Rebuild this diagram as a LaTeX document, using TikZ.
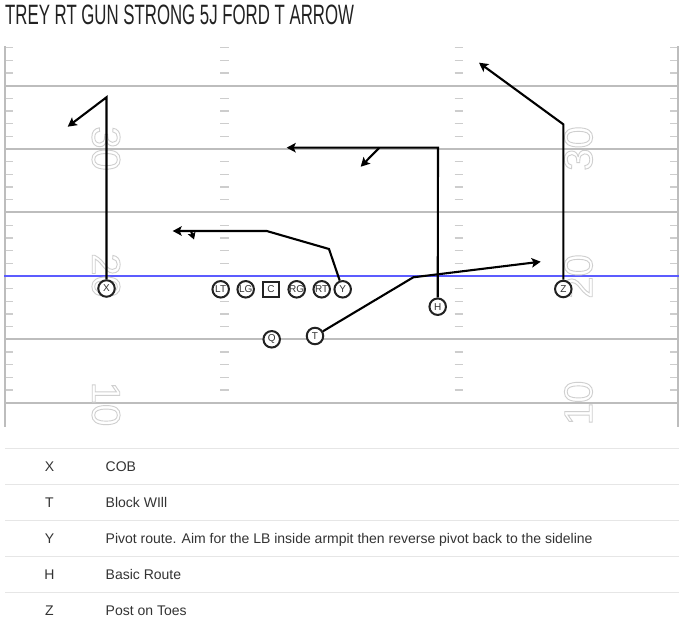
\documentclass[tikz,border=0pt]{standalone}
\usepackage{fontspec}
\usepackage{graphicx}
\setmainfont{Liberation Sans}
\usetikzlibrary{arrows.meta}
\definecolor{yardgray}{HTML}{BDBDBD}
\definecolor{tickgray}{HTML}{CDCDCD}
\definecolor{numgray}{HTML}{CFCFCF}
\definecolor{losblue}{HTML}{5C5CFF}
\definecolor{rowline}{HTML}{E6E6E6}
\definecolor{txtgray}{HTML}{333333}
\definecolor{ink}{HTML}{222222}
\newcommand{\outlinedtext}[1]{\special{pdf:literal direct 1 Tr 0.9 w}#1\special{pdf:literal direct 0 Tr}}
\begin{document}
\begin{tikzpicture}[x=1pt,y=-1pt,
  yardline/.style={draw=yardgray,line width=2pt},
  hashtick/.style={draw=tickgray,line width=1.3pt},
  yardnum/.style={inner sep=0pt,text=numgray,font=\fontsize{40}{40}\selectfont},
  player/.style={circle,draw=ink,line width=2pt,fill=white,minimum size=16.5pt,inner sep=0pt,
    font=\fontsize{10}{10}\selectfont,text=txtgray},
  center/.style={rectangle,draw=ink,line width=2pt,fill=white,minimum size=15.5pt,inner sep=0pt,
    font=\fontsize{10}{10}\selectfont,text=txtgray},
  route/.style={draw=black,line width=2.1pt,line join=miter,-{Stealth[length=9pt,width=9.5pt,inset=2pt]}},
  tablekey/.style={inner sep=0pt,anchor=base,text=txtgray,font=\fontsize{14}{14}\selectfont},
  tabletext/.style={inner sep=0pt,anchor=base west,text=txtgray,font=\fontsize{14}{14}\selectfont},
  titletext/.style={inner sep=0pt,anchor=base west,text=ink,font=\fontsize{28}{28}\selectfont}
]
\useasboundingbox[fill=white] (0,0) rectangle (680,628);

% title
\node[titletext] (title) at (5,25) {\scalebox{0.6}[1]{TREY RT GUN STRONG 5J FORD T ARROW}};

% hash ticks
\foreach \j in {-3,...,24}{
  \pgfmathtruncatemacro\m{mod(\j+5,5)}
  \ifnum\m=0\else
    \pgfmathsetmacro\yy{85.7+12.68*\j}
    \draw[hashtick] (5,\yy) -- (12.7,\yy);
    \draw[hashtick] (220,\yy) -- (229,\yy);
    \draw[hashtick] (454.5,\yy) -- (463,\yy);
    \draw[hashtick] (670,\yy) -- (678,\yy);
  \fi
}
% yard lines
\foreach \k in {0,...,5}{
  \pgfmathsetmacro\yy{85.7+63.4*\k}
  \draw[yardline] (5,\yy) -- (678,\yy);
}
% side borders
\draw[yardline] (5,46.5) -- (5,427);
\draw[yardline] (678,46.5) -- (678,427);
% line of scrimmage
\draw[draw=losblue,line width=2pt] (4,275.9) -- (679,275.9);

% yard numbers
\node[yardnum,rotate=-90] (n30l) at (106,148.5) {\outlinedtext{30}};
\node[yardnum,rotate=-90] (n20l) at (106,275.5) {\outlinedtext{20}};
\node[yardnum,rotate=-90] (n10l) at (106,404) {\outlinedtext{10}};
\node[yardnum,rotate=90] (n30r) at (578.5,148.5) {\outlinedtext{30}};
\node[yardnum,rotate=90] (n20r) at (578.5,276.5) {\outlinedtext{20}};
\node[yardnum,rotate=90] (n10r) at (578.5,403) {\outlinedtext{10}};

% route points
\coordinate (x1) at (106.5,97.3);
\coordinate (x2) at (67.7,126.7);
\coordinate (y1) at (329,249);
\coordinate (y2) at (266.7,231);
\coordinate (y3) at (172.7,231);
\coordinate (y4) at (191,231);
\coordinate (y5) at (194,239.5);
\coordinate (h1) at (438,147.7);
\coordinate (h2) at (286.7,147.7);
\coordinate (h3) at (379.3,147.7);
\coordinate (h4) at (360.7,166.7);
\coordinate (z1) at (563.3,124.3);
\coordinate (z2) at (479,62.7);
\coordinate (t1) at (413.3,277.3);
\coordinate (t2) at (540.7,261.7);

% players
\node[player] (X) at (106.5,288.5) {X};
\node[player] (LT) at (220.7,289.3) {LT};
\node[player] (LG) at (245.7,289.3) {LG};
\node[center] (C) at (271,289.3) {C};
\node[player] (RG) at (296.7,289.3) {RG};
\node[player] (RT) at (321.7,289.3) {RT};
\node[player] (Y) at (342.7,289.3) {Y};
\node[player] (H) at (437.7,306.7) {H};
\node[player] (T) at (315,336) {T};
\node[player] (Q) at (271.7,339.3) {Q};
\node[player] (Z) at (563.3,289) {Z};

% routes
\draw[route] (X) -- (x1) -- (x2);
\draw[route] (Y) -- (y1) -- (y2) -- (y3);
\draw[route,-{Stealth[length=7pt,width=8pt,inset=1.5pt]}] (y4) -- (y5);
\draw[route] (H) -- (h1) -- (h2);
\draw[route] (h3) -- (h4);
\draw[route] (Z) -- (z1) -- (z2);
\draw[route] (T) -- (t1) -- (t2);

% table
\foreach \yy in {448,484,520,556,592}{
  \draw[draw=rowline,line width=1pt] (5,\yy) -- (679,\yy);
}
\node[tablekey] (kX) at (49.5,471.5) {X};
\node[tabletext] (dX) at (105.5,471.5) {COB};
\node[tablekey] (kT) at (49.5,507.5) {T};
\node[tabletext] (dT) at (105.5,507.5) {Block WIll};
\node[tablekey] (kY) at (49.5,543.5) {Y};
\node[tabletext] (dY) at (105.5,543.5) {Pivot route. Aim for the LB inside armpit then reverse pivot back to the sideline};
\node[tablekey] (kH) at (49.5,579.5) {H};
\node[tabletext] (dH) at (105.5,579.5) {Basic Route};
\node[tablekey] (kZ) at (49.5,615.5) {Z};
\node[tabletext] (dZ) at (105.5,615.5) {Post on Toes};
\end{tikzpicture}
\end{document}
